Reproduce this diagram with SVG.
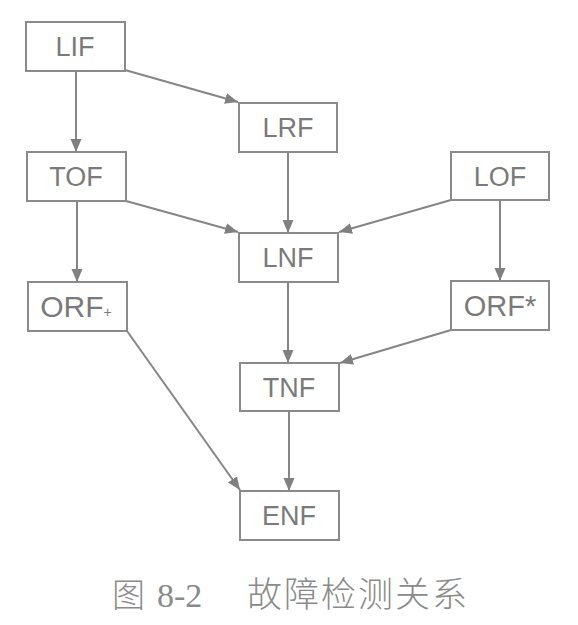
<svg xmlns="http://www.w3.org/2000/svg" width="578" height="625" viewBox="0 0 578 625">
<style>
.box{fill:none;stroke:#8a8a8a;stroke-width:2}
.lbl{font-family:"Liberation Sans",Arial,sans-serif;font-size:27px;fill:#7a7a7a;text-anchor:middle}
.edge{stroke:#858585;stroke-width:2;fill:none;marker-end:url(#ah)}
.cap{font-family:"Liberation Serif","Noto Sans CJK SC",serif;font-size:34px;fill:#8a8a8a}
.cjk{font-family:"Noto Sans CJK SC",sans-serif;font-weight:300}
</style>
<defs>
<marker id="ah" markerUnits="userSpaceOnUse" markerWidth="14" markerHeight="12" refX="13" refY="5.5" orient="auto">
<path d="M0,0 L13,5.5 L0,11 z" fill="#808080"/>
</marker>
</defs>
<rect width="578" height="625" fill="#fff"/>
<g id="connectors">
<line class="edge" x1="76" y1="71" x2="76" y2="152"/>
<line class="edge" x1="125" y1="70" x2="238" y2="102"/>
<line class="edge" x1="288" y1="152" x2="288" y2="233"/>
<line class="edge" x1="126" y1="201" x2="238" y2="232"/>
<line class="edge" x1="451" y1="200" x2="339" y2="232"/>
<line class="edge" x1="77" y1="201" x2="77" y2="282"/>
<line class="edge" x1="500" y1="200" x2="500" y2="281"/>
<line class="edge" x1="288" y1="282" x2="288" y2="363"/>
<line class="edge" x1="451" y1="330" x2="340" y2="363"/>
<line class="edge" x1="127" y1="331" x2="240" y2="490"/>
<line class="edge" x1="289" y1="411" x2="289" y2="491"/>
</g>
<g id="LIF"><rect class="box" x="26" y="22" width="99" height="49"/><text class="lbl" x="75" y="56">LIF</text></g>
<g id="LRF"><rect class="box" x="239" y="103" width="98" height="49"/><text class="lbl" x="288" y="137">LRF</text></g>
<g id="TOF"><rect class="box" x="27" y="152" width="99" height="49"/><text class="lbl" x="76" y="186">TOF</text></g>
<g id="LOF"><rect class="box" x="451" y="152" width="98" height="48"/><text class="lbl" x="500" y="186">LOF</text></g>
<g id="LNF"><rect class="box" x="239" y="233" width="99" height="49"/><text class="lbl" x="288" y="267">LNF</text></g>
<g id="ORF_plus"><rect class="box" x="28" y="282" width="99" height="49"/><text class="lbl" x="76" y="317"><tspan font-size="30">ORF</tspan><tspan font-size="14">+</tspan></text></g>
<g id="ORF_star"><rect class="box" x="451" y="281" width="98" height="49"/><text class="lbl" x="500" y="316" style="font-size:29px">ORF*</text></g>
<g id="TNF"><rect class="box" x="240" y="363" width="99" height="48"/><text class="lbl" x="289" y="397">TNF</text></g>
<g id="ENF"><rect class="box" x="240" y="491" width="99" height="49"/><text class="lbl" x="289" y="525">ENF</text></g>
<text class="cap" y="607"><tspan class="cjk" x="112" font-size="33">图</tspan><tspan x="157">8-2</tspan><tspan class="cjk" x="247" font-size="35" letter-spacing="2">故障检测关系</tspan></text>
</svg>
